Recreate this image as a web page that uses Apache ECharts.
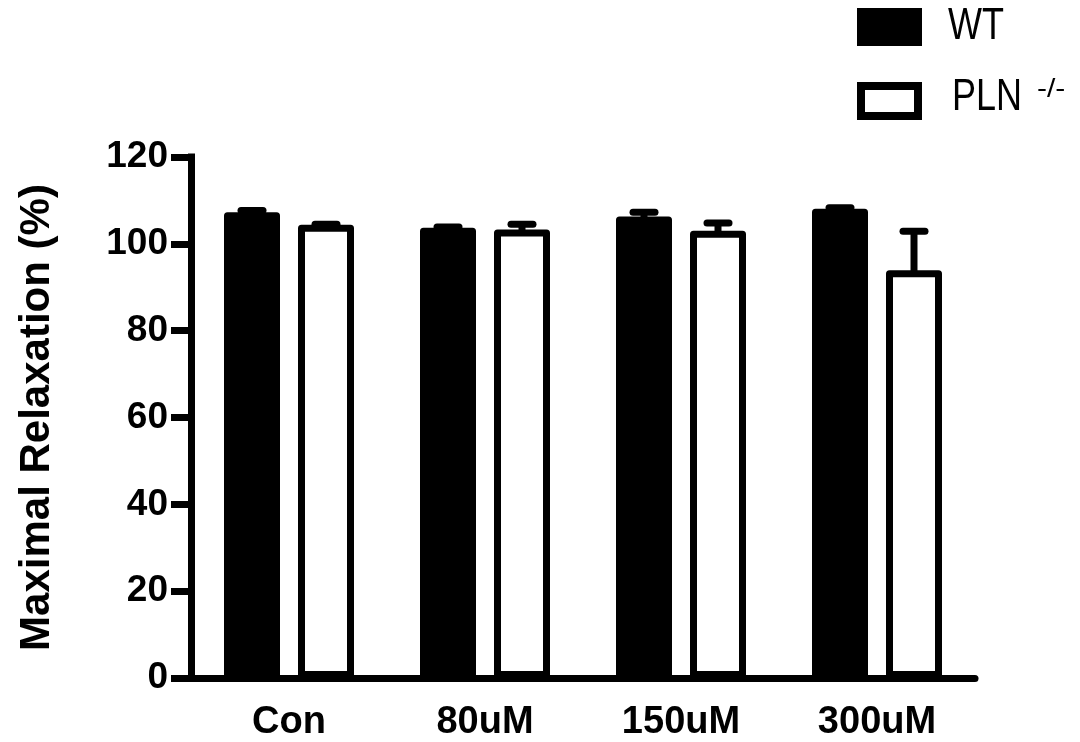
<!DOCTYPE html>
<html>
<head>
<meta charset="utf-8">
<script src="https://cdn.jsdelivr.net/npm/echarts@6/dist/echarts.min.js"></script>
<style>
  html, body { margin: 0; padding: 0; background: #fff; }
  #chart { width: 1080px; height: 742px; }
</style>
</head>
<body>
<div id="chart"></div>
<script>
// Treatment groups on the x axis
const categories = ['Con', '80uM', '150uM', '300uM'];
// Mean maximal relaxation (%) and upper error per group
const wtMean  = [107.3, 103.7, 106.3, 108.1];
const wtErr   = [0.4, 0.2, 1.0, 0.2];
const plnMean = [104.4, 103.3, 103.0, 93.9];
const plnErr  = [0.1, 1.2, 1.8, 9.0];
// Y axis range and ticks
const yMin = 0, yMax = 120, yStep = 20;

const FONT = "'Liberation Sans', Arial, Helvetica, sans-serif";
const BAR_W = 56, BORDER = 7, GAP = 18;
const HALF_OFFSET = (BAR_W + GAP) / 2;

// One-sided (upward) error bar with a short rounded cap
function errorRenderer(offset) {
  return function (params, api) {
    const c = api.value(0);
    const base = api.coord([c, api.value(1)]);
    const top = api.coord([c, api.value(2)]);
    const x = base[0] + offset;
    return {
      type: 'group',
      children: [
        { type: 'line', shape: { x1: x, y1: base[1] + 4, x2: x, y2: top[1] },
          style: { stroke: '#000', lineWidth: 7 } },
        { type: 'line', shape: { x1: x - 11, y1: top[1], x2: x + 11, y2: top[1] },
          style: { stroke: '#000', lineWidth: 7, lineCap: 'round' } }
      ]
    };
  };
}

const wtErrData = wtMean.map((m, i) => [i, m, m + wtErr[i]]);
const plnErrData = plnMean.map((m, i) => [i, m, m + plnErr[i]]);

const chart = echarts.init(document.getElementById('chart'), null, { renderer: 'canvas' });
chart.setOption({
  animation: false,
  backgroundColor: '#fff',
  grid: { left: 191, right: 105, top: 157, bottom: 63, containLabel: false },
  xAxis: {
    type: 'category',
    data: categories,
    axisLine: { lineStyle: { color: '#000', width: 7 } },
    axisTick: { alignWithLabel: true, length: 20, lineStyle: { color: '#000', width: 7 } },
    axisLabel: { color: '#000', fontFamily: FONT, fontWeight: 'bold', fontSize: 38, margin: 26 },
    splitLine: { show: false }
  },
  yAxis: {
    type: 'value',
    min: yMin, max: yMax, interval: yStep,
    name: 'Maximal Relaxation (%)',
    nameLocation: 'middle',
    nameRotate: 90,
    nameGap: 133,
    nameTextStyle: { color: '#000', fontFamily: FONT, fontWeight: 'bold', fontSize: 42 },
    axisLine: { show: true, lineStyle: { color: '#000', width: 7, cap: 'square' } },
    axisTick: { show: true, length: 20, lineStyle: { color: '#000', width: 7 } },
    axisLabel: { color: '#000', fontFamily: FONT, fontWeight: 'bold', fontSize: 37, margin: 23 },
    splitLine: { show: false }
  },
  series: [
    {
      name: 'WT', type: 'bar', data: wtMean, barWidth: BAR_W, barGap: (GAP / BAR_W * 100) + '%',
      itemStyle: { color: '#000', borderColor: '#000', borderWidth: BORDER, borderJoin: 'round' },
      z: 2
    },
    {
      name: 'PLN -/-', type: 'bar', data: plnMean, barWidth: BAR_W,
      itemStyle: { color: '#fff', borderColor: '#000', borderWidth: BORDER, borderJoin: 'round' },
      z: 2
    },
    {
      name: 'WT error', type: 'custom', data: wtErrData, renderItem: errorRenderer(-HALF_OFFSET),
      encode: { x: 0, y: [1, 2] }, z: 3, silent: true
    },
    {
      name: 'PLN error', type: 'custom', data: plnErrData, renderItem: errorRenderer(HALF_OFFSET),
      encode: { x: 0, y: [1, 2] }, z: 3, silent: true
    }
  ],
  // Legend swatches and labels (narrow, tall lettering)
  graphic: [
    { type: 'rect', shape: { x: 861, y: 12, width: 57, height: 30 },
      style: { fill: '#000', stroke: '#000', lineWidth: 8 } },
    { type: 'text', x: 948, y: 27, scaleX: 0.8,
      style: { text: 'WT', fill: '#000', font: '45px ' + FONT, verticalAlign: 'middle' } },
    { type: 'rect', shape: { x: 861, y: 86, width: 57, height: 30 },
      style: { fill: '#fff', stroke: '#000', lineWidth: 8 } },
    { type: 'text', x: 952, y: 98, scaleX: 0.8,
      style: { text: 'PLN', fill: '#000', font: '45px ' + FONT, verticalAlign: 'middle' } },
    { type: 'text', x: 1037, y: 90, scaleX: 1.2,
      style: { text: '-/-', fill: '#000', font: '25px ' + FONT, verticalAlign: 'middle' } }
  ]
});
</script>
</body>
</html>
